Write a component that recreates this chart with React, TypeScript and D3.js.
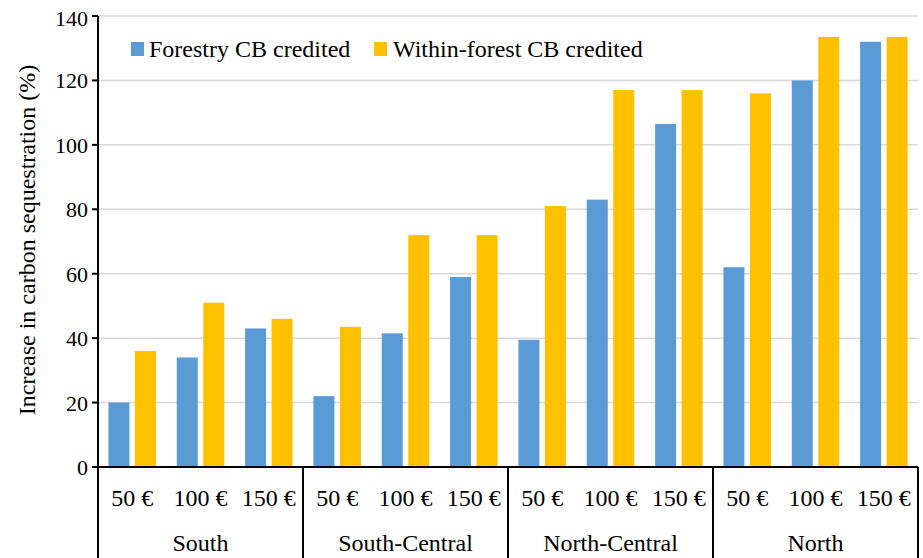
import React from "react";
import * as d3 from "d3";

const groups = ["South", "South-Central", "North-Central", "North"];
const prices = ["50 €", "100 €", "150 €"];
const forestry = [20, 34, 43, 22, 41.5, 59, 39.5, 83, 106.5, 62, 120, 132];
const withinForest = [36, 51, 46, 43.5, 72, 72, 81, 117, 117, 116, 133.5, 133.5];
const seriesNames = ["Forestry CB credited", "Within-forest CB credited"];
const colors = ["#5B9BD5", "#FFC000"];
const yTicks = [0, 20, 40, 60, 80, 100, 120, 140];

const W = 923, H = 558;
const left = 98, right = 918, top = 16, bottom = 467;
const font = "Liberation Serif";

export default function App() {
  const cats = groups.flatMap((g) => prices.map((p) => `${g}|${p}`));
  const x = d3.scaleBand().domain(cats).range([left, right]).paddingInner(0).paddingOuter(0);
  const y = d3.scaleLinear().domain([0, 140]).range([bottom, top]);
  const bw = 21, gap = 5.5;
  const gx = d3.scaleBand().domain(groups).range([left, right]);

  return (
    <svg width={W} height={H} style={{ position: "absolute", left: 0, top: 0, background: "#fff" }}>
      {yTicks.slice(1).map((t) => (
        <line key={t} x1={left} x2={right} y1={y(t)} y2={y(t)} stroke="#d9d9d9" strokeWidth={1.5} />
      ))}
      {cats.map((c, i) => {
        const cx = x(c)! + x.bandwidth() / 2;
        return (
          <g key={c}>
            <rect x={cx - gap / 2 - bw} y={y(forestry[i])} width={bw} height={bottom - y(forestry[i])} fill={colors[0]} />
            <rect x={cx + gap / 2} y={y(withinForest[i])} width={bw} height={bottom - y(withinForest[i])} fill={colors[1]} />
            <text x={cx} y={506} textAnchor="middle" fontFamily={font} fontSize={24}>{c.split("|")[1]}</text>
          </g>
        );
      })}
      {groups.map((g) => (
        <text key={g} x={gx(g)! + gx.bandwidth() / 2} y={551} textAnchor="middle" fontFamily={font} fontSize={24}>{g}</text>
      ))}
      <line x1={left} x2={left} y1={top} y2={H} stroke="#000" strokeWidth={2} />
      <line x1={left} x2={right} y1={bottom} y2={bottom} stroke="#000" strokeWidth={2} />
      {groups.map((g) => (
        <line key={g} x1={gx(g)! + gx.bandwidth()} x2={gx(g)! + gx.bandwidth()} y1={bottom} y2={H} stroke="#000" strokeWidth={2} />
      ))}
      {yTicks.map((t) => (
        <g key={t}>
          <line x1={left - 6} x2={left} y1={y(t)} y2={y(t)} stroke="#000" strokeWidth={2} />
          <text x={88} y={Math.max(y(t) + 8, 26)} textAnchor="end" fontFamily={font} fontSize={22}>{t}</text>
        </g>
      ))}
      <text transform={`translate(35, 240) rotate(-90)`} textAnchor="middle" fontFamily={font} fontSize={24}>
        Increase in carbon sequestration (%)
      </text>
      <rect x={131} y={42} width={13} height={14} fill={colors[0]} />
      <text x={149} y={57} fontFamily={font} fontSize={24}>{seriesNames[0]}</text>
      <rect x={374} y={42} width={13} height={14} fill={colors[1]} />
      <text x={393} y={57} fontFamily={font} fontSize={24}>{seriesNames[1]}</text>
    </svg>
  );
}
